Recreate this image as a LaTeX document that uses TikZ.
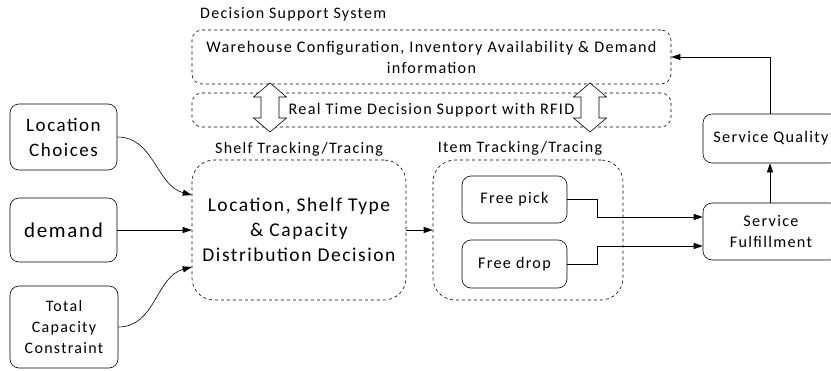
\documentclass[tikz,border=0pt]{standalone}
\usepackage{fontspec}
\setmainfont{Carlito}[LetterSpace=8]
\usetikzlibrary{arrows.meta,calc}
\begin{document}
\begin{tikzpicture}[x=1pt,y=-1pt,
  every node/.style={font=\fontsize{16.2}{21}\selectfont, align=center, inner sep=0pt},
  solidbox/.style={draw, rounded corners=9pt, line width=0.6pt},
  dashbox/.style={draw, dashed, rounded corners=10pt, line width=0.6pt},
  bigdash/.style={draw, dashed, rounded corners=22pt, line width=0.6pt},
  lbl/.style={font=\fontsize{16}{18}\selectfont},
  conn/.style={line width=0.6pt, -{Triangle[length=9pt,width=6pt]}},
  hollow/.style={draw, fill=white, line width=0.6pt, line join=miter}]
\useasboundingbox (0,0) rectangle (831,370);

% Decision support system
\node[lbl, anchor=west] (dsslbl) at (200,14) {Decision Support System};
\node[dashbox, minimum width=479pt, minimum height=54pt] (top) at (431.5,57)
  {Warehouse Configuration, Inventory Availability \& Demand\\information};
\node[dashbox, minimum width=479pt, minimum height=34pt] (rt) at (431.5,110)
  {Real Time Decision Support with RFID};

% hollow double arrows
\foreach \cx/\nm in {270/dA, 590/dB}{
  \draw[hollow] (\cx,83) -- (\cx+16.5,97) -- (\cx+9,97) -- (\cx+9,118) -- (\cx+16.5,118)
    -- (\cx,132) -- (\cx-16.5,118) -- (\cx-9,118) -- (\cx-9,97) -- (\cx-16.5,97) -- cycle;
}

% left inputs
\node[solidbox, minimum width=107pt, minimum height=66pt, font=\fontsize{19}{25}\selectfont] (loc) at (63.5,137) {Location\\Choices};
\node[solidbox, minimum width=107pt, minimum height=64pt, font=\fontsize{21}{25}\selectfont] (dem) at (63.5,230) {demand};
\node[solidbox, minimum width=108pt, minimum height=82pt, font=\fontsize{16}{21}\selectfont] (tot) at (64,327) {Total\\Capacity\\Constraint};

% shelf
\node[lbl] (shelflbl) at (299,149) {Shelf Tracking/Tracing};
\node[bigdash, minimum width=214pt, minimum height=140pt, font=\fontsize{19.5}{25}\selectfont] (shelf) at (299,230)
  {Location, Shelf Type\\\& Capacity\\Distribution Decision};

% item
\node[lbl] (itemlbl) at (520,148) {Item Tracking/Tracing};
\node[bigdash, minimum width=190pt, minimum height=140pt] (item) at (528,230) {};
\node[solidbox, minimum width=105pt, minimum height=47pt] (pick) at (514.5,199.5) {Free pick};
\node[solidbox, minimum width=105pt, minimum height=48pt] (drop) at (514.5,264) {Free drop};

% service
\node[solidbox, minimum width=136pt, minimum height=57pt] (ful) at (771,231.5) {Service\\Fulfillment};
\node[solidbox, minimum width=136pt, minimum height=49pt] (qual) at (771,138.5) {Service Quality};

% connectors
\draw[conn] (loc.east) to[out=0,in=165] ([yshift=35pt]shelf.west);
\draw[conn] (dem.east) -- (shelf.west);
\draw[conn] (tot.east) to[out=0,in=195] ([yshift=-37pt]shelf.west);
\draw[conn] (shelf.east) -- (item.west);
\draw[conn] (pick.east) -- ++(30,0) |- ([yshift=14.5pt]ful.west);
\draw[conn] (drop.east) -- ++(30,0) |- ([yshift=-14.5pt]ful.west);
\draw[conn] (ful.north -| 770,0) -- (qual.south -| 770,0);
\draw[conn] (qual.north -| 770,0) |- (top.east);
\end{tikzpicture}
\end{document}
